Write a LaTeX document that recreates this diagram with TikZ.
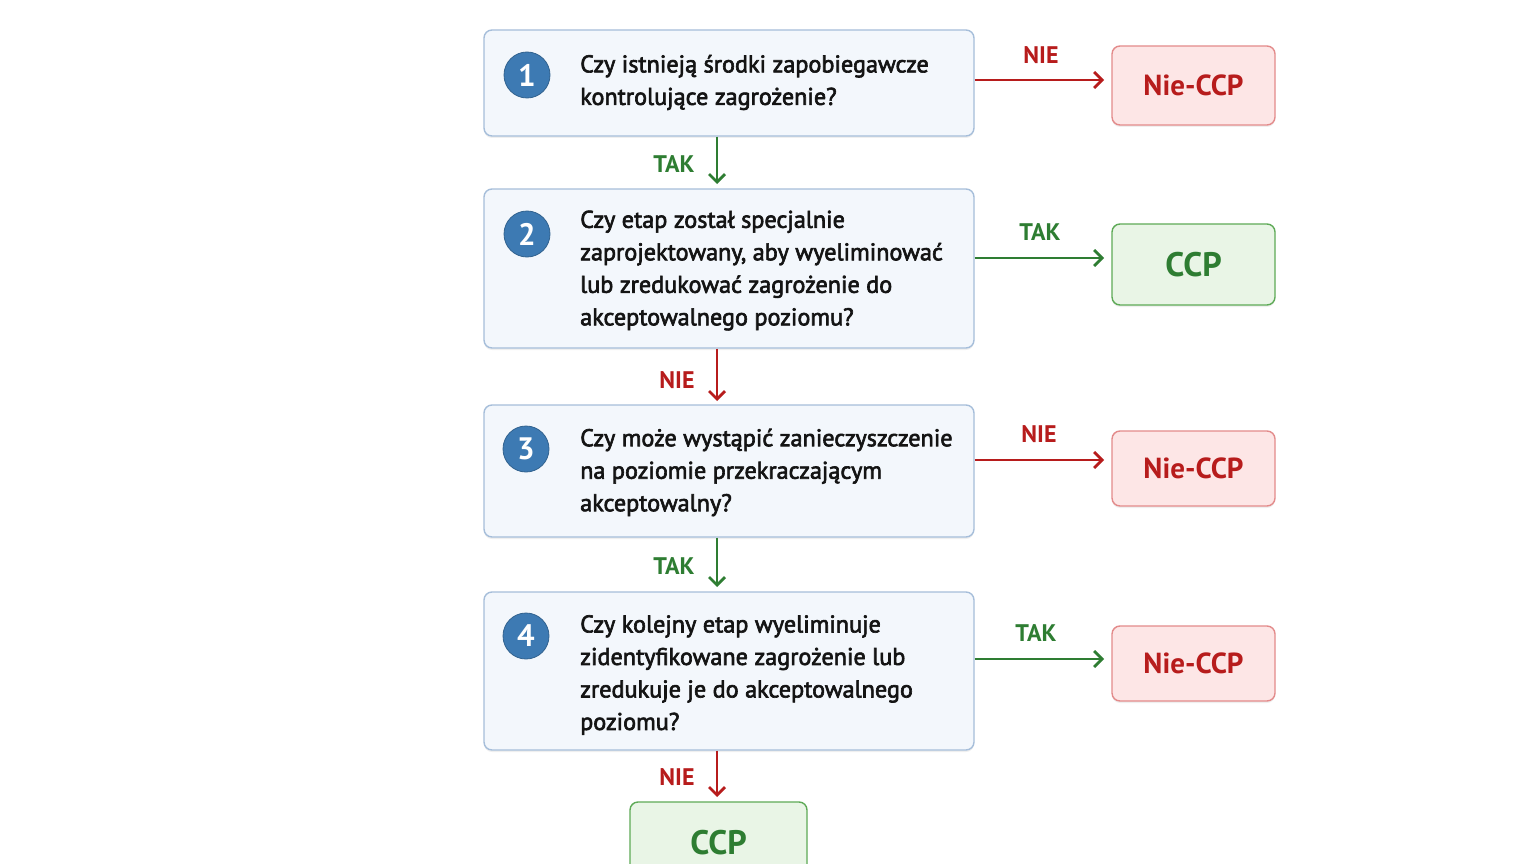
\documentclass[tikz,border=0pt]{standalone}
\usepackage{fontspec}
\setmainfont{PT Sans}[FakeBold=2.6]
\newfontfamily\boldf{PT Sans Bold}
\usetikzlibrary{arrows.meta,shadows}
\definecolor{qfill}{HTML}{F3F7FC}
\definecolor{qdraw}{HTML}{A6BEDA}
\definecolor{numc}{HTML}{3D7AB3}
\definecolor{redc}{HTML}{B71C1C}
\definecolor{redfill}{HTML}{FDE6E6}
\definecolor{reddraw}{HTML}{E38B8B}
\definecolor{greenc}{HTML}{2E7D32}
\definecolor{greenfill}{HTML}{E9F5E6}
\definecolor{greendraw}{HTML}{5EAA57}
\tikzset{
  qbox/.style={draw=qdraw, fill=qfill, line width=1.4pt, rounded corners=8pt, minimum width=490pt, inner sep=0pt,
     drop shadow={shadow xshift=0pt, shadow yshift=-2pt, opacity=0.12}},
  numc/.style={circle, fill=numc, draw=numc!80!black, line width=0.8pt, minimum size=46pt, inner sep=0pt, text=white, font=\fontsize{31}{31}\boldf},
  qtext/.style={anchor=west, align=left, inner sep=0pt, font=\fontsize{24.2}{32.5}\selectfont, text=black!92},
  rbox/.style={draw=reddraw, fill=redfill, line width=1.4pt, rounded corners=8pt, minimum width=163pt, text=redc,
     font=\fontsize{29}{29}\boldf, drop shadow={shadow xshift=0pt, shadow yshift=-2pt, opacity=0.12}},
  gbox/.style={draw=greendraw, fill=greenfill, line width=1.4pt, rounded corners=8pt, text=greenc,
     font=\fontsize{34}{34}\boldf, drop shadow={shadow xshift=0pt, shadow yshift=-2pt, opacity=0.12}},
  rarr/.style={draw=redc, line width=2.8pt, -{Straight Barb[length=8pt,width=16pt]}},
  garr/.style={draw=greenc, line width=2.8pt, -{Straight Barb[length=8pt,width=16pt]}},
  rlab/.style={text=redc, font=\fontsize{24}{24}\boldf, inner sep=0pt},
  glab/.style={text=greenc, font=\fontsize{24}{24}\boldf, inner sep=0pt},
}
\begin{document}
\begin{tikzpicture}[x=1pt,y=1pt]
\useasboundingbox[fill=white] (0,0) rectangle (1536,-864);
% question boxes
\node[qbox, minimum height=106pt] (q1) at (729,-83) {};
\node[qbox, minimum height=159pt] (q2) at (729,-268.5) {};
\node[qbox, minimum height=132pt] (q3) at (729,-471) {};
\node[qbox, minimum height=158pt] (q4) at (729,-671) {};
\node[numc] (n1) at (527,-75) {1};
\node[numc] (n2) at (527,-234) {2};
\node[numc] (n3) at (526,-449) {3};
\node[numc] (n4) at (526,-636) {4};
\node[qtext] (t1) at (580,-82.5) {Czy istnieją środki zapobiegawcze\\kontrolujące zagrożenie?};
\node[qtext] (t2) at (580,-270.5) {Czy etap został specjalnie\\zaprojektowany, aby wyeliminować\\lub zredukować zagrożenie do\\akceptowalnego poziomu?};
\node[qtext] (t3) at (580,-472.5) {Czy może wystąpić zanieczyszczenie\\na poziomie przekraczającym\\akceptowalny?};
\node[qtext] (t4) at (580,-675) {Czy kolejny etap wyeliminuje\\zidentyfikowane zagrożenie lub\\zredukuje je do akceptowalnego\\poziomu?};
% outcome boxes
\node[rbox, minimum height=79pt] (r1) at (1193.5,-85.5) {Nie-CCP};
\node[gbox, minimum width=163pt, minimum height=81pt] (r2) at (1193.5,-264.5) {CCP};
\node[rbox, minimum height=75pt] (r3) at (1193.5,-468.5) {Nie-CCP};
\node[rbox, minimum height=75pt] (r4) at (1193.5,-663.5) {Nie-CCP};
\node[gbox, minimum width=177pt, minimum height=80pt, text depth=0pt] (c5) at (718.5,-842) {CCP};
% horizontal arrows
\coordinate (h1) at (1104,-80);
\coordinate (h2) at (1104,-258);
\coordinate (h3) at (1104,-460);
\coordinate (h4) at (1104,-659);
\draw[rarr] (q1.east |- h1) -- (h1);
\draw[garr] (q2.east |- h2) -- (h2);
\draw[rarr] (q3.east |- h3) -- (h3);
\draw[garr] (q4.east |- h4) -- (h4);
\node[rlab] (l1) at (1041,-55) {NIE};
\node[glab] (l2) at (1040,-232) {TAK};
\node[rlab] (l3) at (1039,-434) {NIE};
\node[glab] (l4) at (1036,-633) {TAK};
% vertical arrows
\coordinate (v1) at (717,-184);
\coordinate (v2) at (717,-401);
\coordinate (v3) at (717,-587);
\coordinate (v4) at (717,-797);
\draw[garr] (v1 |- q1.south) -- (v1);
\draw[rarr] (v2 |- q2.south) -- (v2);
\draw[garr] (v3 |- q3.south) -- (v3);
\draw[rarr] (v4 |- q4.south) -- (v4);
\node[glab] (d1) at (674,-164) {TAK};
\node[rlab] (d2) at (677,-380) {NIE};
\node[glab] (d3) at (674,-566) {TAK};
\node[rlab] (d4) at (677,-777) {NIE};
\end{tikzpicture}
\end{document}
